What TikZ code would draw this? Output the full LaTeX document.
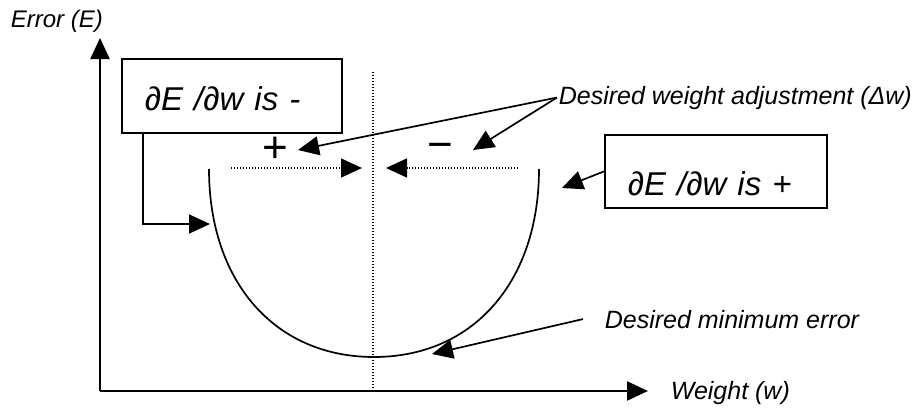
\documentclass[tikz,border=0pt]{standalone}
\usepackage{fontspec}
\setmainfont{Liberation Sans}
\usetikzlibrary{positioning, calc, arrows.meta}

\newcommand{\lblfont}{\fontsize{25}{30}\selectfont\itshape}
\newcommand{\boxfont}{\fontsize{33}{38}\selectfont\itshape}

\tikzset{
  lbl/.style={font=\lblfont, inner sep=0pt, anchor=base west},
  box/.style={draw, line width=1.8pt, inner xsep=23pt, inner ysep=0pt, align=left, font=\boxfont, anchor=north west},
  sign/.style={font=\fontsize{44}{48}\selectfont, inner sep=0pt},
  dots/.style={line width=1.5pt, dash pattern=on 1.2pt off 1.8pt},
}

\begin{document}
\begin{tikzpicture}[x=1pt, y=-1pt, line width=1.7pt, >={Triangle[length=21pt, width=19pt]}]
    \useasboundingbox (0,0) rectangle (922,410);

    % Axes
    \coordinate (O) at (100,391);
    \coordinate (Ytop) at (100,38);
    \coordinate (Xend) at (648,391);
    \draw[->, line width=2.2pt] (O) -- (Ytop);
    \draw[->, line width=2.2pt] (O) -- (Xend);
    \node[lbl, font=\fontsize{24}{28}\selectfont\itshape] (ylab) at (10,27) {Error (E)};
    \node[lbl] (xlab) at (670,399) {Weight (w)};

    % Line of the minimum
    \coordinate (Mtop) at (373,72);
    \coordinate (Mbot) at (373,390);
    \draw[dots, line width=1.3pt] (Mtop) -- (Mbot);

    % Error curve
    \coordinate (Cleft) at (209,169);
    \coordinate (Cbot) at (374,357);
    \coordinate (Cright) at (539,169);
    \draw (Cleft) .. controls (209,282) and (275,357) .. (Cbot)
                  .. controls (473,357) and (539,282) .. (Cright);

    % Gradient boxes
    \node[box, text width=174pt, text height=52pt, text depth=22pt] (negbox) at (121,58) {∂E /∂w is -};
    \node[box, text width=176pt, text height=61pt, text depth=12pt] (posbox) at (604,134) {∂E /∂w is +};

    \coordinate (lefthit) at (210,224);
    \coordinate (righthit) at (562,188);
    \draw[->] ([xshift=22pt]negbox.south west) |- (lefthit);
    \draw[->] (posbox.west) -- (righthit);

    % Weight adjustment
    \node[sign] (plus) at (275,150) {+};
    \node[sign] (minus) at (440,151) {−};
    \coordinate (Lstart) at (231,168);
    \coordinate (Ltip) at (362,168);
    \coordinate (Rstart) at (518,168);
    \coordinate (Rtip) at (386,168);
    \draw[dots, ->] (Lstart) -- (Ltip);
    \draw[dots, ->] (Rstart) -- (Rtip);

    \node[lbl] (adjlbl) at (558,104) {Desired weight adjustment (Δw)};
    \coordinate (plustip) at (298,150);
    \coordinate (minustip) at (473,150);
    \draw[->] ([xshift=-1pt]adjlbl.west) -- (plustip);
    \draw[->] ([xshift=-1pt]adjlbl.west) -- (minustip);

    % Minimum error
    \node[lbl] (minlbl) at (604,328) {Desired minimum error};
    \coordinate (bothit) at (432,354);
    \draw[->] ([xshift=-21pt]minlbl.west) -- (bothit);
\end{tikzpicture}
\end{document}
